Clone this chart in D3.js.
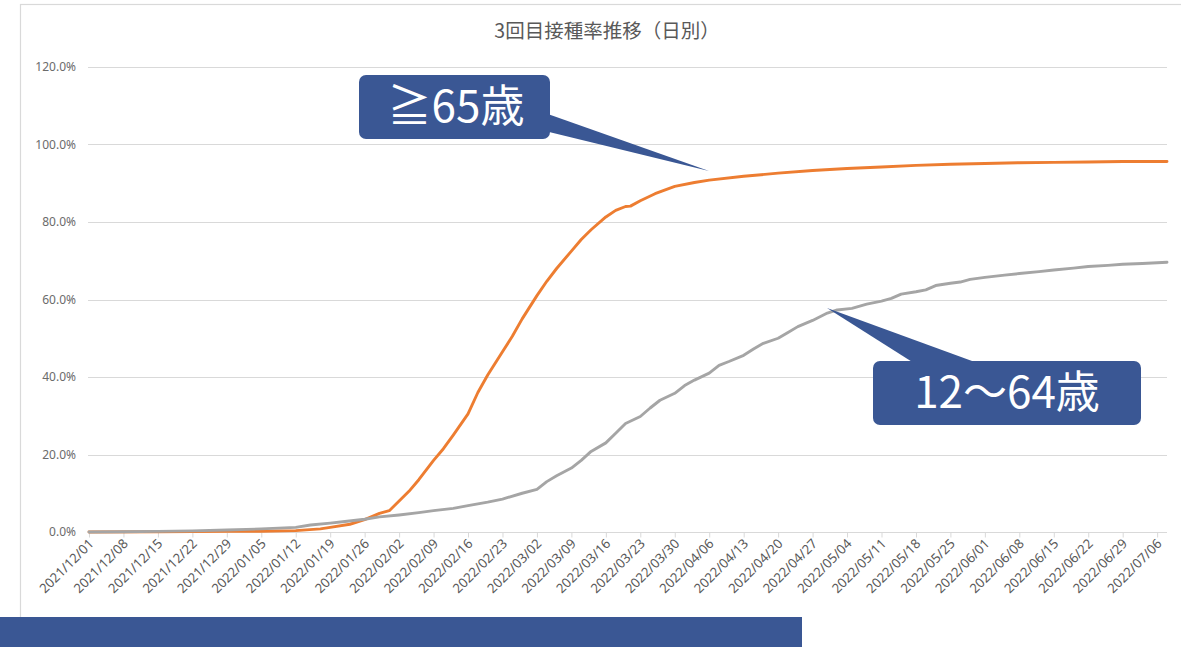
<!DOCTYPE html>
<html>
<head>
<meta charset="utf-8">
<script src="https://cdn.jsdelivr.net/npm/d3@7/dist/d3.min.js"></script>
<style>
html,body{margin:0;padding:0;background:#fff;}
svg{display:block;}
</style>
</head>
<body>
<script>
// ---- data ----
const chartTitle = "3回目接種率推移（日別）";
const seriesNames = ["≧65歳", "12～64歳"];

const elderDates = ["2021/12/01","2021/12/15","2021/12/22","2021/12/29","2022/01/05","2022/01/12","2022/01/17","2022/01/19","2022/01/23","2022/01/26","2022/01/29","2022/01/31","2022/02/02","2022/02/04","2022/02/06","2022/02/09","2022/02/11","2022/02/13","2022/02/16","2022/02/18","2022/02/20","2022/02/23","2022/02/25","2022/02/27","2022/03/02","2022/03/04","2022/03/06","2022/03/09","2022/03/11","2022/03/13","2022/03/16","2022/03/18","2022/03/20","2022/03/21","2022/03/23","2022/03/26","2022/03/30","2022/04/03","2022/04/06","2022/04/13","2022/04/20","2022/04/27","2022/05/04","2022/05/11","2022/05/18","2022/05/25","2022/06/01","2022/06/08","2022/06/15","2022/06/22","2022/06/29","2022/07/08"];
const elderValues = [0.0,0.05,0.1,0.15,0.2,0.35,0.8,1.2,2.0,3.2,4.8,5.5,8.0,10.5,13.5,18.5,21.5,25.0,30.5,36.0,40.5,46.5,50.5,55.0,61.0,64.7,68.0,72.5,75.5,78.0,81.3,83.0,84.0,84.1,85.5,87.3,89.2,90.2,90.8,91.8,92.6,93.3,93.8,94.2,94.6,94.9,95.1,95.3,95.4,95.5,95.6,95.6];

const youngDates = ["2021/12/01","2021/12/08","2021/12/15","2021/12/22","2021/12/29","2022/01/05","2022/01/12","2022/01/15","2022/01/19","2022/01/22","2022/01/26","2022/01/29","2022/02/02","2022/02/06","2022/02/09","2022/02/13","2022/02/16","2022/02/20","2022/02/23","2022/02/27","2022/03/02","2022/03/04","2022/03/06","2022/03/09","2022/03/11","2022/03/13","2022/03/16","2022/03/18","2022/03/20","2022/03/23","2022/03/25","2022/03/27","2022/03/30","2022/04/01","2022/04/03","2022/04/06","2022/04/08","2022/04/10","2022/04/13","2022/04/15","2022/04/17","2022/04/20","2022/04/22","2022/04/24","2022/04/27","2022/04/30","2022/05/02","2022/05/05","2022/05/08","2022/05/11","2022/05/13","2022/05/15","2022/05/18","2022/05/20","2022/05/22","2022/05/25","2022/05/27","2022/05/29","2022/06/01","2022/06/05","2022/06/08","2022/06/12","2022/06/15","2022/06/19","2022/06/22","2022/06/26","2022/06/29","2022/07/03","2022/07/08"];
const youngValues = [0.0,0.05,0.15,0.3,0.5,0.8,1.2,1.8,2.3,2.7,3.3,3.9,4.4,5.0,5.5,6.1,6.8,7.7,8.5,10.0,11.0,13.0,14.5,16.5,18.5,20.8,23.0,25.5,28.0,29.8,32.0,34.0,35.8,37.8,39.2,41.0,43.0,44.0,45.6,47.2,48.7,50.0,51.5,53.0,54.6,56.5,57.3,57.7,58.8,59.6,60.3,61.4,62.0,62.5,63.6,64.2,64.5,65.2,65.7,66.3,66.7,67.2,67.6,68.1,68.5,68.8,69.1,69.3,69.6];

const xTickLabels = ["2021/12/01","2021/12/08","2021/12/15","2021/12/22","2021/12/29","2022/01/05","2022/01/12","2022/01/19","2022/01/26","2022/02/02","2022/02/09","2022/02/16","2022/02/23","2022/03/02","2022/03/09","2022/03/16","2022/03/23","2022/03/30","2022/04/06","2022/04/13","2022/04/20","2022/04/27","2022/05/04","2022/05/11","2022/05/18","2022/05/25","2022/06/01","2022/06/08","2022/06/15","2022/06/22","2022/06/29","2022/07/06"];
const yTickValues = [0, 0.2, 0.4, 0.6, 0.8, 1.0, 1.2];
const xDomain = ["2021/12/01", "2022/07/08"];

// ---- chart ----
const W = 1181, H = 647;
const parse = d3.timeParse("%Y/%m/%d");
const svg = d3.select("body").append("svg").attr("width", W).attr("height", H);

// chart frame
svg.append("rect").attr("x", 20.5).attr("y", 4.5).attr("width", 1175).attr("height", 650)
  .attr("fill", "#fff").attr("stroke", "#D9D9D9").attr("stroke-width", 1.2);

const x = d3.scaleTime().domain(xDomain.map(parse)).range([89, 1167]);
const y = d3.scaleLinear().domain([0, 1.2]).range([532, 67]);

// gridlines
svg.append("g").selectAll("line").data(yTickValues.filter(v => v > 0)).join("line")
  .attr("x1", 88).attr("x2", 1167)
  .attr("y1", d => Math.round(y(d)) + 0.5).attr("y2", d => Math.round(y(d)) + 0.5)
  .attr("stroke", "#D9D9D9").attr("stroke-width", 1);

// y axis labels
const yAxis = d3.axisLeft(y).tickValues(yTickValues).tickFormat(d3.format(".1%")).tickSize(0).tickPadding(0);
const yg = svg.append("g").attr("transform", "translate(76,0)").call(yAxis);
yg.select(".domain").remove();
yg.selectAll("text").attr("fill", "#6B6B6B").attr("font-family", "'Noto Sans', 'DejaVu Sans', sans-serif").attr("font-size", 12);

// x axis
const xTicks = xTickLabels.map(parse);
const xAxis = d3.axisBottom(x).tickValues(xTicks).tickFormat(d3.timeFormat("%Y/%m/%d")).tickSize(5).tickSizeOuter(0);
const xg = svg.append("g").attr("transform", "translate(0,532.5)").call(xAxis);
xg.select(".domain").attr("stroke", "#D9D9D9").attr("d", "M88,0H1167");
xg.selectAll(".tick line").attr("stroke", "#D9D9D9");
xg.selectAll(".tick text")
  .attr("fill", "#595959")
  .attr("font-family", "'Noto Sans', 'DejaVu Sans', sans-serif")
  .attr("font-size", 13.2)
  .attr("text-anchor", "end")
  .attr("dy", null)
  .attr("y", 0)
  .attr("transform", "translate(5,12) rotate(-45)");

// lines
const line = d3.line().x(d => x(d.date)).y(d => y(d.value / 100));
const elder = elderDates.map((d, i) => ({date: parse(d), value: elderValues[i]}));
const young = youngDates.map((d, i) => ({date: parse(d), value: youngValues[i]}));

svg.append("path").datum(elder).attr("d", line).attr("fill", "none")
  .attr("stroke", "#ED7D31").attr("stroke-width", 2.9).attr("stroke-linejoin", "round").attr("stroke-linecap", "round");
svg.append("path").datum(young).attr("d", line).attr("fill", "none")
  .attr("stroke", "#A5A5A5").attr("stroke-width", 2.9).attr("stroke-linejoin", "round").attr("stroke-linecap", "round");

// title
svg.append("text").attr("x", 607).attr("y", 38).attr("text-anchor", "middle")
  .attr("font-family", "'Noto Sans CJK JP', sans-serif").attr("font-size", 19.5)
  .attr("fill", "#595959").text(chartTitle);

// callouts
const calloutColor = "#3A5794";
function callout(rx, ry, rw, rh, tail, label, tx, ty) {
  const g = svg.append("g");
  g.append("path").attr("d", d3.line()(tail) + "Z").attr("fill", calloutColor);
  g.append("rect").attr("x", rx).attr("y", ry).attr("width", rw).attr("height", rh)
    .attr("rx", 7).attr("fill", calloutColor);
  g.append("text").attr("x", tx).attr("y", ty).attr("text-anchor", "middle")
    .attr("font-family", "'Noto Sans CJK JP', sans-serif").attr("font-size", 44)
    .attr("fill", "#fff").text(label);
}
callout(359, 75, 191, 64, [[545, 113], [709, 171], [545, 131]], seriesNames[0], 456, 122);
callout(873, 361, 268, 64, [[917, 365], [827, 308], [983, 365]], seriesNames[1], 1007, 408);

// bottom band
svg.append("rect").attr("x", 0).attr("y", 617).attr("width", 802).attr("height", 30).attr("fill", calloutColor);
</script>
</body>
</html>
